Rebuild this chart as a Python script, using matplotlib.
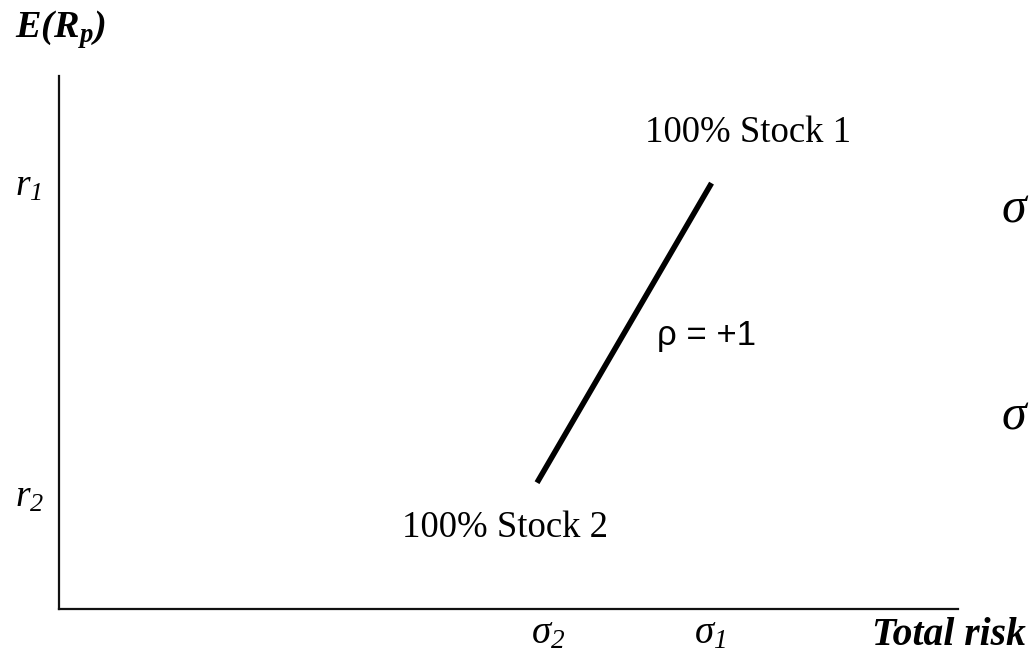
import matplotlib
matplotlib.use("Agg")
import matplotlib.pyplot as plt

# Two-asset portfolio with perfectly correlated returns (rho = +1)
sigma_vals = [53.2, 72.6]      # risk of Stock 2, Stock 1
return_vals = [23.7, 79.9]     # expected return of Stock 2, Stock 1
endpoint_labels = ["100% Stock 2", "100% Stock 1"]
r_labels = [r"$r_{2}$", r"$r_{1}$"]
sigma_labels = [r"$σ_{2}$", r"$σ_{1}$"]
corr_label = "ρ = +1"
x_title = "Total risk"
y_title = r"$\mathbf{E(R_p)}$"

plt.rcParams["mathtext.fontset"] = "custom"
plt.rcParams["mathtext.rm"] = "Liberation Serif:italic"
plt.rcParams["mathtext.it"] = "Liberation Serif:italic"
plt.rcParams["mathtext.bf"] = "Liberation Serif:italic:bold"
plt.rcParams["mathtext.default"] = "it"

W, H = 1029, 660
fig = plt.figure(figsize=(W / 100, H / 100), dpi=100)
fig.patch.set_facecolor("white")

def fx(px):
    return px / W

def fy(py):
    return 1 - py / H

x0, y0, x1, y1 = 58.5, 609, 958, 76
ax = fig.add_axes([fx(x0), fy(y0), fx(x1 - x0), (y0 - y1) / H])
ax.set_xlim(0, 100)
ax.set_ylim(0, 100)
ax.set_xticks([])
ax.set_yticks([])
for side in ("top", "right"):
    ax.spines[side].set_visible(False)
for side in ("left", "bottom"):
    ax.spines[side].set_linewidth(1.6)
    ax.spines[side].set_color("#111111")

# Efficient frontier segment
ax.plot(sigma_vals, return_vals, color="black", lw=4.0, solid_capstyle="butt")

serif = "Liberation Serif"
fs = 26.5

# Endpoint annotations
ax.annotate(endpoint_labels[1], xy=(sigma_vals[1], return_vals[1]),
            xytext=(-67, 41), textcoords="offset pixels",
            ha="left", va="baseline", fontsize=fs, family=serif)
ax.annotate(endpoint_labels[0], xy=(sigma_vals[0], return_vals[0]),
            xytext=(-135, -54), textcoords="offset pixels",
            ha="left", va="baseline", fontsize=fs, family=serif)

# Correlation label
fig.text(fx(657), fy(345), corr_label, ha="left", va="baseline",
         fontsize=25, family="Liberation Sans")

# Return levels on the vertical axis
for r, lab, dy in zip(return_vals, r_labels, (-24, -12)):
    ax.annotate(lab, xy=(0, r), xytext=(-43.5, dy), textcoords="offset pixels",
                ha="left", va="baseline", fontsize=27, annotation_clip=False)

# Risk levels on the horizontal axis
for s, lab, dx in zip(sigma_vals, sigma_labels, (11, -2)):
    ax.annotate(lab, xy=(s, 0), xytext=(dx, -34), textcoords="offset pixels",
                ha="center", va="baseline", fontsize=28, annotation_clip=False)

# Axis titles
fig.text(fx(15), fy(38), y_title, ha="left", va="baseline", fontsize=27.5)
fig.text(fx(872), fy(645), x_title, ha="left", va="baseline", fontsize=28.5,
         family=serif, style="italic", weight="bold")

# Large sigma glyphs at the right margin
for py in (222, 430):
    fig.text(fx(1002), fy(py), "σ", ha="left", va="baseline", fontsize=36,
             family=serif, style="italic")

fig.savefig("out.png", dpi=100, facecolor="white")
